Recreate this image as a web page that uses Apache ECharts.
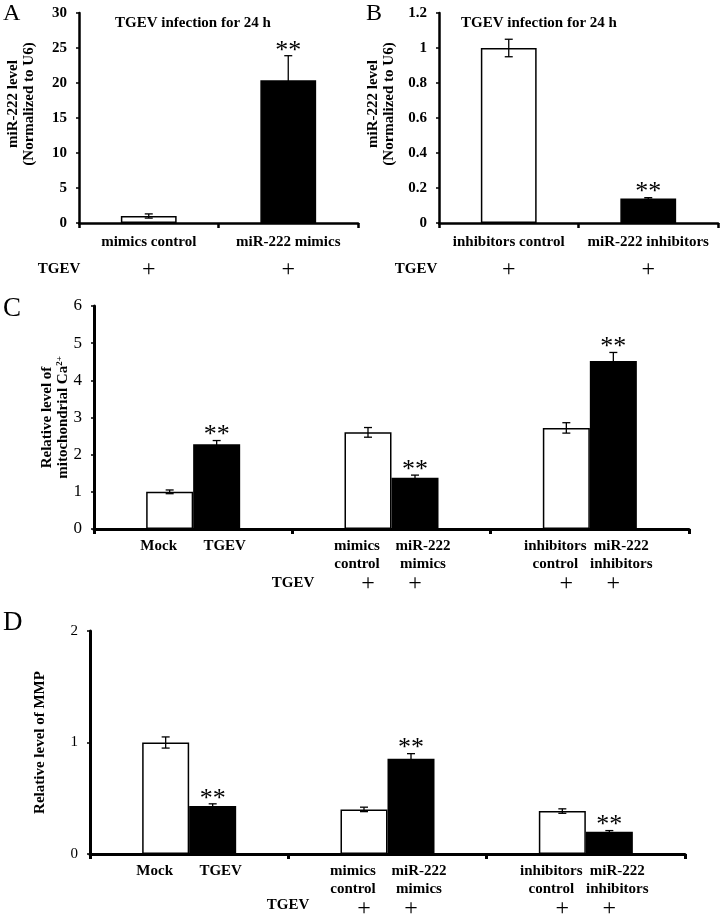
<!DOCTYPE html>
<html>
<head>
<meta charset="utf-8">
<script src="https://cdn.jsdelivr.net/npm/echarts@6/dist/echarts.min.js"></script>
<style>html,body{margin:0;padding:0;background:#fff}#c{width:720px;height:915px}</style>
</head>
<body>
<div id="c"></div>
<script>
// ---------- Data ----------
// Panel A
const catsA = ['mimics control', 'miR-222 mimics'];
const valuesA = [1.0, 20.4];
const errorsA = [0.3, 3.5];
const sigA = ['', '**'];
const tgevA = ['+', '+'];
const ticksA = { min: 0, max: 30, interval: 5 };

// Panel B
const catsB = ['inhibitors control', 'miR-222 inhibitors'];
const valuesB = [1.0, 0.14];
const errorsB = [0.05, 0.005];
const sigB = ['', '**'];
const tgevB = ['+', '+'];
const ticksB = { min: 0, max: 1.2, interval: 0.2 };

// Panels C & D (three groups, control vs treatment)
const groupsCD = ['Mock / TGEV', 'mimics', 'inhibitors'];
const ctrlLabels = ['Mock', 'mimics\ncontrol', 'inhibitors\ncontrol'];
const trtLabels = ['TGEV', 'miR-222\nmimics', 'miR-222\ninhibitors'];
const tgevCtrl = ['', '+', '+'];
const tgevTrt = ['', '+', '+'];

const ctrlC = [1.0, 2.6, 2.72];
const errCtrlC = [0.05, 0.13, 0.14];
const trtC = [2.28, 1.38, 4.52];
const errTrtC = [0.1, 0.07, 0.23];
const sigCtrlC = ['', '', ''];
const sigTrtC = ['**', '**', '**'];
const ticksC = { min: 0, max: 6, interval: 1 };

const ctrlD = [1.0, 0.40, 0.385];
const errCtrlD = [0.05, 0.02, 0.02];
const trtD = [0.43, 0.855, 0.20];
const errTrtD = [0.02, 0.045, 0.01];
const sigCtrlD = ['', '', ''];
const sigTrtD = ['**', '**', '**'];
const ticksD = { min: 0, max: 2, interval: 1 };

// ---------- Chart ----------
const FONT = "'Liberation Serif','Times New Roman',serif";
const chart = echarts.init(document.getElementById('c'), null, { renderer: 'canvas' });

const BAR_FRAC = 0.237; // bar width as fraction of group band in C/D

function xAxisCfg(gridIndex, cats, showLabels, lineW) {
  return {
    type: 'category', gridIndex, data: cats,
    axisLine: { show: true, lineStyle: { color: '#000', width: lineW } },
    axisTick: { show: true, length: 5, lineStyle: { color: '#000', width: lineW } },
    axisLabel: showLabels ? { show: true, interval: 0, margin: 12, color: '#000',
      fontFamily: FONT, fontWeight: 'bold', fontSize: 15 } : { show: false },
    splitLine: { show: false }
  };
}
function yAxisCfg(gridIndex, t, opts) {
  return {
    type: 'value', gridIndex, min: t.min, max: t.max, interval: t.interval,
    axisLine: { show: true, lineStyle: { color: '#000', width: opts.lineW } },
    axisTick: { show: true, length: 3, lineStyle: { color: '#000', width: 1.5 } },
    axisLabel: { color: '#000', fontFamily: FONT, fontWeight: opts.bold ? 'bold' : 'normal',
      fontSize: opts.fontSize, margin: opts.margin,
      formatter: v => String(Math.round(v * 10) / 10) },
    splitLine: { show: false },
    nameLocation: 'middle', nameRotate: 90, nameGap: opts.nameGap,
    nameMoveOverlap: false,
    name: opts.name,
    nameTextStyle: Object.assign({ color: '#000', fontFamily: FONT, fontWeight: 'bold',
      fontSize: 15, lineHeight: 16, padding: opts.namePad || 0 }, opts.nameStyle || {})
  };
}

function errorBarSeries(axisIndex, vals, errs, sigs, offFrac) {
  return {
    type: 'custom', xAxisIndex: axisIndex, yAxisIndex: axisIndex, z: 5,
    silent: true,
    data: vals.map((v, i) => [i, v, errs[i]]),
    renderItem(params, api) {
      const i = api.value(0), v = api.value(1), e = api.value(2);
      const bw = api.size([1, 0])[0];
      const x = api.coord([i, v])[0] + offFrac * bw;
      const yTop = api.coord([i, v + e])[1];
      const yBot = api.coord([i, v - e])[1];
      const cap = 4;
      const st = { stroke: '#000', lineWidth: 1.3 };
      const children = [
        { type: 'line', shape: { x1: x, y1: yTop, x2: x, y2: yBot }, style: st },
        { type: 'line', shape: { x1: x - cap, y1: yTop, x2: x + cap, y2: yTop }, style: st },
        { type: 'line', shape: { x1: x - cap, y1: yBot, x2: x + cap, y2: yBot }, style: st }
      ];
      const s = sigs[params.dataIndex];
      if (s) {
        children.push({ type: 'text', style: { text: s, x: x, y: yTop + 8,
          align: 'center', verticalAlign: 'bottom', fontSize: 26, fontFamily: FONT, fill: '#000' } });
      }
      return { type: 'group', children };
    }
  };
}

function simpleBars(axisIndex, vals, colors, tgev) {
  return {
    type: 'bar', xAxisIndex: axisIndex, yAxisIndex: axisIndex,
    barWidth: '40%',
    data: vals.map((v, i) => ({ value: v, itemStyle: { color: colors[i], borderColor: '#000', borderWidth: 1.5 } })),
    label: { show: true, position: 'bottom', distance: 36,
      formatter: p => tgev[p.dataIndex] ? '{p|' + tgev[p.dataIndex] + '}' : '',
      rich: { p: { fontSize: 24, fontFamily: FONT, color: '#000', lineHeight: 22 } } }
  };
}

// shift: horizontal offset of the text lines (the "+" row stays centred under the bar)
function groupBars(axisIndex, vals, color, labels, tgev, shift) {
  const pad = shift < 0 ? [0, -2 * shift, 0, 0] : [0, 0, 0, 2 * shift];
  return {
    type: 'bar', xAxisIndex: axisIndex, yAxisIndex: axisIndex,
    barWidth: (BAR_FRAC * 100) + '%', barGap: '0%',
    itemStyle: { color: color, borderColor: '#000', borderWidth: 1.5 },
    data: vals,
    label: { show: true, position: 'bottom', distance: 8,
      formatter: p => {
        const lines = labels[p.dataIndex].split('\n').map(s => '{l|' + s + '}');
        if (tgev[p.dataIndex]) {
          while (lines.length < 2) lines.push('{l| }');
          lines.push('{p|' + tgev[p.dataIndex] + '}');
        }
        return lines.join('\n');
      },
      rich: {
        l: { fontSize: 15, fontWeight: 'bold', fontFamily: FONT, color: '#000', lineHeight: 18, padding: pad },
        p: { fontSize: 24, fontFamily: FONT, color: '#000', lineHeight: 22 }
      } }
  };
}

const option = {
  animation: false,
  backgroundColor: '#fff',
  grid: [
    { left: 79, top: 13, width: 279, height: 210 },
    { left: 439, top: 13, width: 279, height: 210 },
    { left: 94, top: 306, width: 595, height: 223 },
    { left: 90, top: 631, width: 595, height: 223 }
  ],
  xAxis: [
    xAxisCfg(0, catsA, true, 2.5),
    xAxisCfg(1, catsB, true, 2.5),
    xAxisCfg(2, groupsCD, false, 3),
    xAxisCfg(3, groupsCD, false, 3)
  ],
  yAxis: [
    yAxisCfg(0, ticksA, { lineW: 2.5, bold: true, fontSize: 15, margin: 12, nameGap: 42,
      name: 'miR-222 level\n(Normalized to U6)', namePad: [0, 0, 0, 28] }),
    yAxisCfg(1, ticksB, { lineW: 2.5, bold: true, fontSize: 15, margin: 12, nameGap: 42,
      name: 'miR-222 level\n(Normalized to U6)', namePad: [0, 0, 0, 28] }),
    yAxisCfg(2, ticksC, { lineW: 3, bold: false, fontSize: 17, margin: 12, nameGap: 23,
      name: '{n|Relative level of}\n{n|mitochondrial Ca}{s|2+}',
      nameStyle: { rich: {
        n: { fontFamily: FONT, fontWeight: 'bold', fontSize: 15, lineHeight: 16, color: '#000' },
        s: { fontFamily: FONT, fontWeight: 'bold', fontSize: 9, lineHeight: 16, verticalAlign: 'top', color: '#000' }
      } } }),
    yAxisCfg(3, ticksD, { lineW: 3, bold: false, fontSize: 15, margin: 12, nameGap: 42,
      name: 'Relative level of MMP' })
  ],
  series: [
    simpleBars(0, valuesA, ['#fff', '#000'], tgevA),
    errorBarSeries(0, valuesA, errorsA, sigA, 0),
    simpleBars(1, valuesB, ['#fff', '#000'], tgevB),
    errorBarSeries(1, valuesB, errorsB, sigB, 0),

    groupBars(2, ctrlC, '#fff', ctrlLabels, tgevCtrl, -11),
    groupBars(2, trtC, '#000', trtLabels, tgevTrt, 8),
    errorBarSeries(2, ctrlC, errCtrlC, sigCtrlC, -BAR_FRAC / 2),
    errorBarSeries(2, trtC, errTrtC, sigTrtC, BAR_FRAC / 2),

    groupBars(3, ctrlD, '#fff', ctrlLabels, tgevCtrl, -11),
    groupBars(3, trtD, '#000', trtLabels, tgevTrt, 8),
    errorBarSeries(3, ctrlD, errCtrlD, sigCtrlD, -BAR_FRAC / 2),
    errorBarSeries(3, trtD, errTrtD, sigTrtD, BAR_FRAC / 2)
  ],
  graphic: [
    { type: 'text', left: 3, top: 2, style: { text: 'A', fontSize: 24, fontFamily: FONT, fill: '#000' } },
    { type: 'text', left: 366, top: 2, style: { text: 'B', fontSize: 24, fontFamily: FONT, fill: '#000' } },
    { type: 'text', left: 3, top: 295, style: { text: 'C', fontSize: 27, fontFamily: FONT, fill: '#000' } },
    { type: 'text', left: 3, top: 609, style: { text: 'D', fontSize: 27, fontFamily: FONT, fill: '#000' } },
    { type: 'text', x: 193, y: 23, style: { text: 'TGEV infection for 24 h', align: 'center', verticalAlign: 'middle',
      fontSize: 15, fontWeight: 'bold', fontFamily: FONT, fill: '#000' } },
    { type: 'text', x: 539, y: 23, style: { text: 'TGEV infection for 24 h', align: 'center', verticalAlign: 'middle',
      fontSize: 15, fontWeight: 'bold', fontFamily: FONT, fill: '#000' } },
    { type: 'text', x: 59, y: 269, style: { text: 'TGEV', align: 'center', verticalAlign: 'middle',
      fontSize: 15, fontWeight: 'bold', fontFamily: FONT, fill: '#000' } },
    { type: 'text', x: 416, y: 269, style: { text: 'TGEV', align: 'center', verticalAlign: 'middle',
      fontSize: 15, fontWeight: 'bold', fontFamily: FONT, fill: '#000' } },
    { type: 'text', x: 293, y: 583, style: { text: 'TGEV', align: 'center', verticalAlign: 'middle',
      fontSize: 15, fontWeight: 'bold', fontFamily: FONT, fill: '#000' } },
    { type: 'text', x: 288, y: 905, style: { text: 'TGEV', align: 'center', verticalAlign: 'middle',
      fontSize: 15, fontWeight: 'bold', fontFamily: FONT, fill: '#000' } }
  ]
};
chart.setOption(option);
</script>
</body>
</html>
